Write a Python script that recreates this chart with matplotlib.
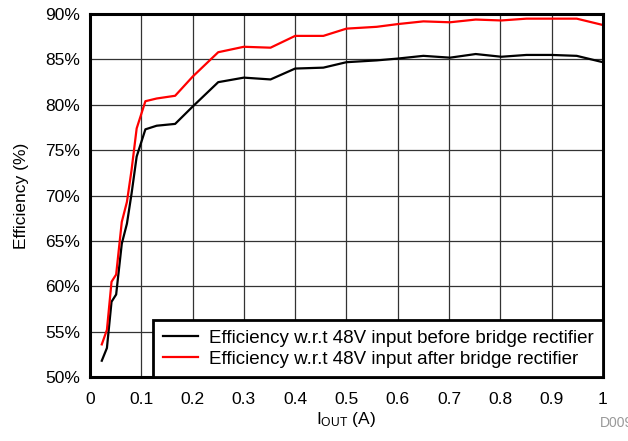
import numpy as np
import matplotlib.pyplot as plt

plt.rcParams['font.family'] = ['Liberation Sans', 'DejaVu Sans']
plt.rcParams['mathtext.fontset'] = 'custom'
plt.rcParams['mathtext.rm'] = 'Liberation Sans'

# output current (A)
iout = [0.023, 0.033, 0.042, 0.051, 0.062, 0.072, 0.081, 0.091, 0.108, 0.13,
        0.166, 0.2, 0.25, 0.3, 0.352, 0.4, 0.455, 0.5, 0.559, 0.6, 0.65,
        0.702, 0.752, 0.802, 0.851, 0.9, 0.949, 1.0]

# efficiency (%) referenced to the 48V input
eff_before = [51.8, 53.2, 58.3, 59.1, 64.7, 66.9, 70.2, 74.3, 77.3, 77.7,
              77.9, 79.8, 82.5, 83.0, 82.8, 84.0, 84.1, 84.7, 84.9, 85.1,
              85.4, 85.2, 85.6, 85.3, 85.5, 85.5, 85.4, 84.7]
eff_after = [53.6, 55.2, 60.5, 61.3, 67.1, 69.3, 72.8, 77.4, 80.4, 80.7,
             81.0, 83.1, 85.8, 86.4, 86.3, 87.6, 87.6, 88.4, 88.6, 88.9,
             89.2, 89.1, 89.4, 89.3, 89.5, 89.5, 89.5, 88.8]

xticks = np.round(np.arange(0, 1.01, 0.1), 1)
xtick_labels = ['0', '0.1', '0.2', '0.3', '0.4', '0.5', '0.6', '0.7', '0.8', '0.9', '1']
yticks = np.arange(50, 91, 5)
ytick_labels = ['%d%%' % v for v in yticks]

fig = plt.figure(figsize=(6.28, 4.41), dpi=100)
ax = fig.add_axes([0.1433, 0.145, 0.8167, 0.823])

ax.plot(iout, eff_before, color='black', lw=1.6,
        label='Efficiency w.r.t 48V input before bridge rectifier')
ax.plot(iout, eff_after, color='#ff0000', lw=1.6,
        label='Efficiency w.r.t 48V input after bridge rectifier')

ax.set_xlim(0, 1)
ax.set_ylim(50, 90)
ax.set_xticks(xticks)
ax.set_xticklabels(xtick_labels)
ax.set_yticks(yticks)
ax.set_yticklabels(ytick_labels)
ax.tick_params(length=0, labelsize=12.5)
ax.tick_params(axis='x', pad=11)
ax.tick_params(axis='y', pad=7)
ax.grid(True, color='#333333', lw=0.9)
ax.set_axisbelow(True)
for s in ax.spines.values():
    s.set_linewidth(2.2)

ax.set_xlabel(r'$\mathregular{I_{OUT}}$ (A)', fontsize=12.5, labelpad=2)
ax.set_ylabel('Efficiency (%)', fontsize=12.5, labelpad=12)

leg = ax.legend(loc='lower right', fontsize=13.5, borderaxespad=0,
                fancybox=False, framealpha=1, edgecolor='black',
                handlelength=1.9, handletextpad=0.55, borderpad=0.5,
                labelspacing=0.2)
leg.get_frame().set_linewidth(2.0)

fig.text(600 / 628, 0.032, 'D009', fontsize=10, color='#999999')

fig.savefig('out.png', dpi=100)
